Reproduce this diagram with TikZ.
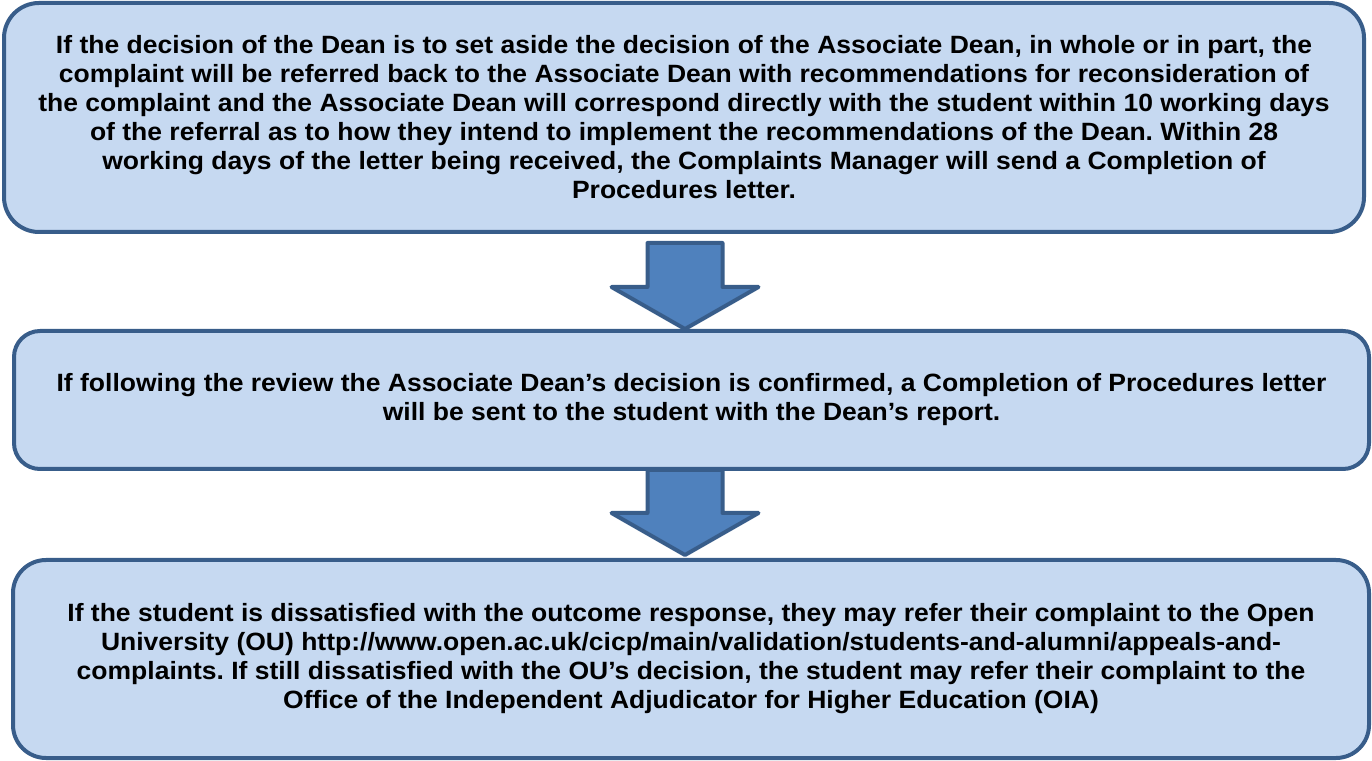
\documentclass[tikz,border=0pt]{standalone}
\usepackage{fontspec}
\setmainfont{Liberation Sans}[FakeStretch=1.06]
\frenchspacing
\usetikzlibrary{calc}
\definecolor{boxfill}{HTML}{C6D9F1}
\definecolor{boxline}{HTML}{385D8A}
\definecolor{arrowfill}{HTML}{4F81BD}
\tikzset{
    stage/.style={draw=boxline,fill=boxfill,line width=4pt,align=center,
        font=\fontsize{25}{29}\selectfont\bfseries,inner sep=0pt},
    blockarrow/.style={draw=boxline,fill=arrowfill,line width=4pt,line join=round}
}
% block arrow: #1 top of the shaft, #2 tip
\newcommand\flowarrow[2]{
    \draw[blockarrow] ($(#1)+(-37.5,0)$) -- ($(#1)+(37.5,0)$)
        -- ($(#2)+(37.5,42)$) -- ($(#2)+(73.5,42)$) -- (#2)
        -- ($(#2)+(-73.5,42)$) -- ($(#2)+(-37.5,42)$) -- cycle;
}
\begin{document}
\begin{tikzpicture}[x=1pt,y=1pt]
    \useasboundingbox (0,0) rectangle (1372,760);
    %% stages
    \node[stage,minimum width=1360,minimum height=229,rounded corners=35pt]
        (review) at (684,642.5) {If the decision of the Dean is to set aside the decision of the Associate Dean, in whole or in part, the\\
        complaint will be referred back to the Associate Dean with recommendations for reconsideration of\\
        the complaint and the Associate Dean will correspond directly with the student within 10 working days\\
        of the referral as to how they intend to implement the recommendations of the Dean. Within 28\\
        working days of the letter being received, the Complaints Manager will send a Completion of\\
        Procedures letter.};
    \node[stage,minimum width=1355,minimum height=138,rounded corners=26pt]
        (confirm) at (691.5,360) {If following the review the Associate Dean’s decision is confirmed, a Completion of Procedures letter\\
        will be sent to the student with the Dean’s report.};
    \node[stage,minimum width=1356,minimum height=198,rounded corners=33pt]
        (external) at (691,101) {If the student is dissatisfied with the outcome response, they may refer their complaint to the Open\\
        University (OU) http://www.open.ac.uk/cicp/main/validation/students-and-alumni/appeals-and-\\
        complaints. If still dissatisfied with the OU’s decision, the student may refer their complaint to the\\
        Office of the Independent Adjudicator for Higher Education (OIA)};
    %% arrows between stages
    \coordinate (top1) at (685,517);
    \coordinate (top2) at (685,290);
    \coordinate (tip1) at (confirm.north -| top1);
    \coordinate (tip2) at ($(external.north -| top2)+(0,3)$);
    \flowarrow{top1}{tip1}
    \flowarrow{top2}{tip2}
\end{tikzpicture}
\end{document}
